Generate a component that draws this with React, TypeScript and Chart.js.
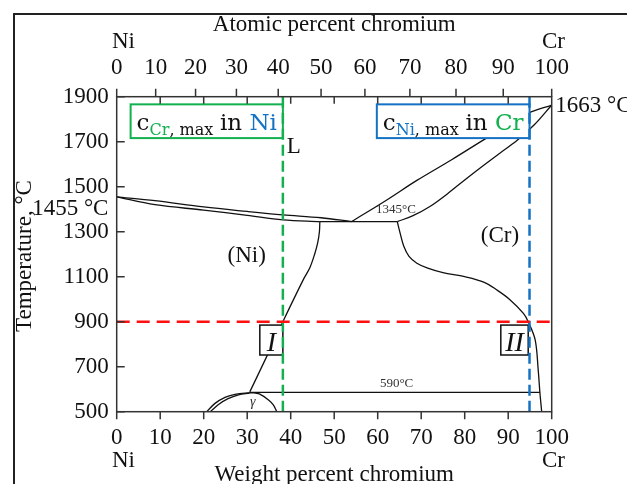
import React, { useEffect, useRef } from "react";
import { Chart, registerables } from "chart.js";

Chart.register(...registerables);

// ---------- axis ticks ----------
const weightTicks = [0, 10, 20, 30, 40, 50, 60, 70, 80, 90, 100];
const atomicTickLabels = ["0", "10", "20", "30", "40", "50", "60", "70", "80", "90", "100"];
// weight-% positions of the atomic-% ticks
const atomicTickWt = [0, 8.96, 18.13, 27.52, 37.13, 46.98, 57.06, 67.4, 78.0, 88.86, 100];
const tempTicks = [500, 700, 900, 1100, 1300, 1500, 1700, 1900];

// ---------- phase boundaries (wt% Cr, °C) ----------
const niLiquidusWt = [0, 8.8, 20, 30, 38.2, 47, 54];
const niLiquidusT = [1455, 1438, 1410, 1390, 1375, 1362, 1345];

const niSolidusWt = [0, 8.8, 20, 30, 38.2, 46.7];
const niSolidusT = [1455, 1420, 1396, 1373, 1353, 1345];

const eutecticWt = [46.7, 64.5];
const eutecticT = [1345, 1345];

const crLiquidusWt = [54, 62, 69, 77, 85, 91, 94.6, 100];
const crLiquidusT = [1345, 1440, 1528, 1620, 1716, 1785, 1827, 1863];

const crSolidusWt = [64.5, 68, 72, 76, 80, 84, 88, 92, 96, 100];
const crSolidusT = [1345, 1370, 1412, 1468, 1530, 1590, 1648, 1705, 1775, 1863];

const crSolvusWt = [64.5, 65.2, 66, 67.2, 69, 71.5, 75, 80, 84.5, 87.4, 90.4, 93.5, 94.6, 96.2, 96.9, 97.3, 97.7];
const crSolvusT = [1345, 1290, 1235, 1190, 1160, 1138, 1118, 1100, 1075, 1041, 998, 937, 900, 819, 685, 582, 500];

const niSolvusWt = [46.7, 46.6, 46.2, 45.5, 44.4, 42.9, 38.2, 34.5, 30.6];
const niSolvusT = [1345, 1300, 1250, 1200, 1140, 1087, 900, 746, 588];

const ordLineWt = [30.6, 97.3];
const ordLineT = [586, 586];

const gammaOuterWt = [20.7, 22.6, 24.9, 27.2, 29.5, 31.5, 32.8, 34.9, 36, 36.8];
const gammaOuterT = [500, 537, 564, 577, 583, 584, 579, 552, 530, 500];
const gammaInnerWt = [21.5, 23.4, 25.6, 28, 30.5];
const gammaInnerT = [500, 532, 558, 575, 583];

// ---------- highlighted limits ----------
const crMaxInNiWt = 38.2;
const niMaxInCrWt = 94.9;
const refTempC = 900;

// ---------- annotation boxes (wt%, °C) ----------
const greenBoxWt = [3.2, 38.2];
const blueBoxWt = [59.8, 94.9];
const topBoxT = [1866, 1716];
const romanBoxI = [32.9, 38.2];
const romanBoxII = [88.3, 94.6];
const romanBoxT = [885, 752];

const GREEN = "#12b04f";
const BLUE = "#1372c4";
const RED = "#ff1010";
const SERIF = '"Liberation Serif", "Times New Roman", serif';
const BOXFONT = '"DejaVu Serif", serif';

const pts = (xs: number[], ys: number[]) => xs.map((x, i) => ({ x, y: ys[i] }));

const curve = (xs: number[], ys: number[], tension = 0.35) => ({
  data: pts(xs, ys),
  showLine: true,
  borderColor: "#111",
  borderWidth: 1.3,
  pointRadius: 0,
  tension,
  fill: false,
});

const decorPlugin = {
  id: "decor",
  beforeDatasetDraw(chart: any, args: any) {
    if (args.index !== 2) return;
    const ctx = chart.ctx;
    const xs = chart.scales.x;
    const ys = chart.scales.y;
    const X = (v: number) => xs.getPixelForValue(v);
    const Y = (v: number) => ys.getPixelForValue(v);
    const rect = (x1: number, y1: number, x2: number, y2: number, color: string, lw: number) => {
      ctx.save();
      ctx.fillStyle = "#fff";
      ctx.fillRect(x1, y1, x2 - x1, y2 - y1);
      ctx.strokeStyle = color;
      ctx.lineWidth = lw;
      ctx.strokeRect(x1, y1, x2 - x1, y2 - y1);
      ctx.restore();
    };
    const boxText = (x1: number, x2: number, top: number, sub: string, subColor: string, el: string, elColor: string) => {
      ctx.save();
      ctx.textBaseline = "alphabetic";
      ctx.textAlign = "left";
      const base = top + 25.5;
      let x = x1 + 6;
      ctx.font = `23px ${BOXFONT}`;
      ctx.fillStyle = "#111";
      ctx.fillText("c", x, base);
      x += ctx.measureText("c").width;
      ctx.font = `16px ${BOXFONT}`;
      ctx.fillStyle = subColor;
      ctx.fillText(sub, x, base + 5);
      x += ctx.measureText(sub).width;
      ctx.fillStyle = "#111";
      ctx.fillText(", max", x, base + 5);
      ctx.font = `23px ${BOXFONT}`;
      const wEl = ctx.measureText(el).width;
      const wIn = ctx.measureText("in ").width;
      const xr = x2 - 6;
      ctx.fillStyle = elColor;
      ctx.fillText(el, xr - wEl, base);
      ctx.fillStyle = "#111";
      ctx.fillText("in ", xr - wEl - wIn, base);
      ctx.restore();
    };
    // green box
    rect(X(greenBoxWt[0]), Y(topBoxT[0]), X(greenBoxWt[1]), Y(topBoxT[1]), GREEN, 2);
    boxText(X(greenBoxWt[0]), X(greenBoxWt[1]), Y(topBoxT[0]), "Cr", GREEN, "Ni", BLUE);
    // blue box
    rect(X(blueBoxWt[0]), Y(topBoxT[0]), X(blueBoxWt[1]), Y(topBoxT[1]), BLUE, 2);
    boxText(X(blueBoxWt[0]), X(blueBoxWt[1]), Y(topBoxT[0]), "Ni", BLUE, "Cr", GREEN);
    // roman boxes
    const roman = (b: number[], label: string) => {
      const x1 = X(b[0]), x2 = X(b[1]), y1 = Y(romanBoxT[0]), y2 = Y(romanBoxT[1]);
      rect(x1, y1, x2, y2, "#111", 1.5);
      ctx.save();
      ctx.font = `italic 28px ${SERIF}`;
      ctx.fillStyle = "#111";
      ctx.textAlign = "center";
      ctx.textBaseline = "alphabetic";
      ctx.fillText(label, (x1 + x2) / 2, y2 - 4.5);
      ctx.restore();
    };
    roman(romanBoxI, "I");
    roman(romanBoxII, "II");
  },
  afterDatasetsDraw(chart: any) {
    const ctx = chart.ctx;
    const ca = chart.chartArea;
    const xs = chart.scales.x;
    const ys = chart.scales.y;
    const X = (v: number) => xs.getPixelForValue(v);
    const Y = (v: number) => ys.getPixelForValue(v);
    ctx.save();
    // outer frame
    ctx.strokeStyle = "#222";
    ctx.lineWidth = 2;
    ctx.beginPath();
    ctx.moveTo(14, 700);
    ctx.lineTo(14, 14);
    ctx.lineTo(700, 14);
    ctx.stroke();
    // plot frame
    ctx.strokeStyle = "#333";
    ctx.lineWidth = 1.5;
    ctx.strokeRect(ca.left, ca.top, ca.right - ca.left, ca.bottom - ca.top);
    ctx.beginPath();
    atomicTickWt.forEach((v) => {
      ctx.moveTo(X(v), ca.top);
      ctx.lineTo(X(v), ca.top - 8);
    });
    weightTicks.forEach((v) => {
      if (v > 0 && v < 100) {
        ctx.moveTo(X(v), ca.top);
        ctx.lineTo(X(v), ca.top + 7);
      }
      ctx.moveTo(X(v), ca.bottom);
      ctx.lineTo(X(v), ca.bottom + 7.5);
    });
    tempTicks.forEach((v) => {
      ctx.moveTo(ca.left, Y(v));
      ctx.lineTo(ca.left + 8, Y(v));
    });
    ctx.stroke();

    // texts
    ctx.fillStyle = "#111";
    ctx.textBaseline = "alphabetic";
    const cx = (ca.left + ca.right) / 2;
    ctx.font = `23px ${SERIF}`;
    ctx.textAlign = "center";
    ctx.fillText("Atomic percent chromium", cx, 31);
    ctx.fillText("Weight percent chromium", cx, 481);
    ctx.textAlign = "left";
    ctx.fillText("Ni", 112, 48);
    ctx.fillText("Cr", 542, 48);
    ctx.fillText("Ni", 112, 467);
    ctx.fillText("Cr", 542, 467);

    ctx.textAlign = "right";
    ctx.fillText("1455 °C", X(-1.9), Y(1374));
    ctx.textAlign = "left";
    ctx.fillText("1663 °C", X(100.8), Y(1833));
    ctx.fillText("L", X(39.1), Y(1650));
    ctx.textAlign = "center";
    ctx.fillText("(Ni)", X(29.9), Y(1167));
    ctx.fillText("(Cr)", X(88.1), Y(1254));

    ctx.fillStyle = "#333";
    ctx.font = `13px ${SERIF}`;
    ctx.textAlign = "left";
    ctx.fillText("1345°C", X(59.6), Y(1383));
    ctx.fillText("590°C", X(60.5), Y(610));
    ctx.font = `italic 14px ${SERIF}`;
    ctx.textAlign = "center";
    ctx.fillText("γ", X(31.3), Y(525));

    // y title
    ctx.save();
    ctx.translate(25, 256);
    ctx.rotate(-Math.PI / 2);
    ctx.fillStyle = "#111";
    ctx.font = `23px ${SERIF}`;
    ctx.textAlign = "center";
    ctx.textBaseline = "middle";
    ctx.fillText("Temperature, °C", 0, 0);
    ctx.restore();

    ctx.restore();
  },
};

export default function App() {
  const ref = useRef<HTMLCanvasElement | null>(null);
  useEffect(() => {
    if (!ref.current) return;
    const tickFont = { family: SERIF, size: 23 };
    const plain = (v: any) => String(v);
    const chart = new Chart(ref.current, {
      type: "scatter",
      data: {
        datasets: [
          {
            data: pts([0, 100], [refTempC, refTempC]),
            showLine: true,
            borderColor: RED,
            borderWidth: 2.6,
            borderDash: [13, 7],
            pointRadius: 0,
          },
          {
            data: pts([crMaxInNiWt, crMaxInNiWt], [1900, 500]),
            showLine: true,
            borderColor: GREEN,
            borderWidth: 2.5,
            borderDash: [11, 5],
            pointRadius: 0,
          },
          {
            data: pts([niMaxInCrWt, niMaxInCrWt], [1900, 500]),
            showLine: true,
            borderColor: BLUE,
            borderWidth: 2.5,
            borderDash: [11, 5],
            pointRadius: 0,
          },
          curve(niLiquidusWt, niLiquidusT),
          curve(niSolidusWt, niSolidusT),
          curve(eutecticWt, eutecticT, 0),
          curve(crLiquidusWt, crLiquidusT),
          curve(crSolidusWt, crSolidusT),
          curve(crSolvusWt, crSolvusT),
          curve(niSolvusWt, niSolvusT),
          curve(ordLineWt, ordLineT, 0),
          curve(gammaOuterWt, gammaOuterT),
          curve(gammaInnerWt, gammaInnerT),
        ] as any,
      },
      options: {
        animation: false,
        responsive: false,
        events: [],
        layout: { padding: { left: 0, right: 75.3, top: 0, bottom: 0 } },
        plugins: { legend: { display: false }, tooltip: { enabled: false } },
        scales: {
          x: {
            type: "linear",
            position: "bottom",
            min: 0,
            max: 100,
            afterBuildTicks: (s: any) => {
              s.ticks = weightTicks.map((v) => ({ value: v }));
            },
            ticks: { font: tickFont, color: "#111", padding: 12, maxRotation: 0, autoSkip: false, callback: plain },
            grid: { display: false, drawTicks: false },
            border: { display: false },
            afterFit: (s: any) => {
              s.height = 72.3;
            },
          },
          x2: {
            type: "linear",
            position: "top",
            min: 0,
            max: 100,
            afterBuildTicks: (s: any) => {
              s.ticks = atomicTickWt.map((v) => ({ value: v }));
            },
            ticks: {
              font: tickFont,
              color: "#111",
              padding: 15,
              maxRotation: 0,
              autoSkip: false,
              callback: (_v: any, i: number) => atomicTickLabels[i],
            },
            grid: { display: false, drawTicks: false },
            border: { display: false },
            afterFit: (s: any) => {
              s.height = 96.7;
            },
          },
          y: {
            type: "linear",
            min: 500,
            max: 1900,
            afterBuildTicks: (s: any) => {
              s.ticks = tempTicks.map((v) => ({ value: v }));
            },
            ticks: { font: tickFont, color: "#111", padding: 8, autoSkip: false, callback: plain },
            grid: { display: false, drawTicks: false },
            border: { display: false },
            afterFit: (s: any) => {
              s.width = 116.7;
            },
          },
        },
      } as any,
      plugins: [decorPlugin],
    });
    return () => chart.destroy();
  }, []);
  return (
    <div style={{ position: "fixed", left: 0, top: 0, width: 627, height: 484, background: "#fff" }}>
      <canvas ref={ref} width={627} height={484} style={{ width: 627, height: 484 }} />
    </div>
  );
}
